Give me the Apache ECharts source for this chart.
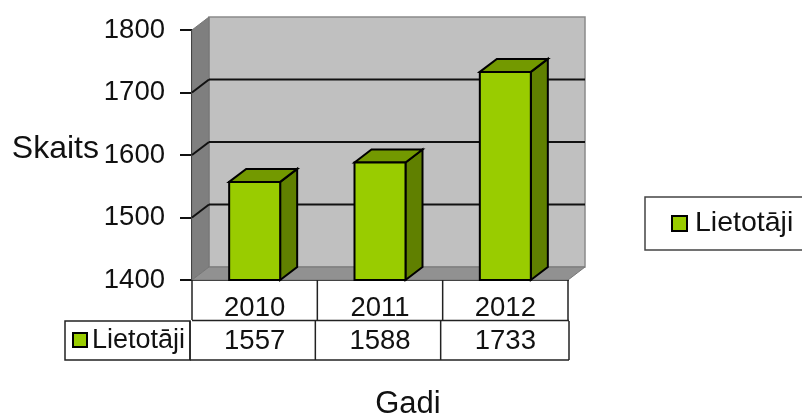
<!DOCTYPE html>
<html>
<head>
<meta charset="utf-8">
<style>html,body{margin:0;padding:0;background:#fff;overflow:hidden}#c{width:802px;height:413px}</style>
<script src="https://cdn.jsdelivr.net/npm/echarts@6/dist/echarts.min.js"></script>
</head>
<body>
<div id="c"></div>
<script>
const categories = ['2010', '2011', '2012'];
const users = [1557, 1588, 1733];
const valueTicks = [1400, 1500, 1600, 1700, 1800];
const seriesName = 'Lietotāji';
const xTitle = 'Gadi';
const yTitle = 'Skaits';

const FONT = '"Liberation Sans", Arial, sans-serif';
const DX = 17, DY = -13, BAR_W = 51;
const ROW1 = 40, ROW2_TOP = 41, ROW2_H = 39, HEAD_LEFT = 65;
const INK = '#111';
const TABLE = '#222';

function line(x1, y1, x2, y2, stroke, w) {
  return {type: 'line', shape: {x1, y1, x2, y2}, style: {stroke, lineWidth: w}};
}
function poly(points, fill, stroke, w) {
  return {type: 'polygon', shape: {points}, style: {fill, stroke, lineWidth: w, lineJoin: 'miter'}};
}
function label(text, x, y, size, align) {
  return {type: 'text', style: {text, x, y, fill: INK, font: size + 'px ' + FONT, align: align || 'center', verticalAlign: 'middle'}};
}

function renderFrame(params, api) {
  const tick = api.value(1);
  const g = params.coordSys;
  const x0 = g.x, x1 = g.x + g.width, yBase = g.y + g.height, yTop = g.y;
  const y = api.coord([0, tick])[1];
  const children = [];
  if (params.dataIndex === 0) {
    children.push(poly([[x0 + DX, yTop + DY], [x1 + DX, yTop + DY], [x1 + DX, yBase + DY], [x0 + DX, yBase + DY]], '#c0c0c0', '#8a8a8a', 1.5));
    children.push(poly([[x0, yTop], [x0 + DX, yTop + DY], [x0 + DX, yBase + DY], [x0, yBase]], '#7f7f7f', '#777', 1));
    children.push(poly([[x0, yBase], [x0 + DX, yBase + DY], [x1 + DX, yBase + DY], [x1, yBase]], '#919191', '#777', 1));
    const bottom = yBase + ROW2_TOP + ROW2_H;
    children.push(line(x1, yBase, x1, yBase + ROW1, TABLE, 1.5));
    children.push(line(x0, yBase + ROW1 + 0.5, x1 + 1, yBase + ROW1 + 0.5, TABLE, 1.5));
    children.push(poly([[HEAD_LEFT, yBase + ROW2_TOP], [x0 - 2, yBase + ROW2_TOP], [x0 - 2, bottom], [HEAD_LEFT, bottom]], 'rgba(0,0,0,0)', TABLE, 1.5));
    children.push(line(x0 - 2, bottom, x1 + 1, bottom, TABLE, 1.5));
    children.push(line(x1 + 1, yBase + ROW2_TOP, x1 + 1, bottom, TABLE, 1.5));
    children.push({type: 'rect', shape: {x: 73, y: yBase + 53, width: 14, height: 14}, style: {fill: '#99cc00', stroke: '#000', lineWidth: 2}});
    children.push(label(seriesName, 92, yBase + 61, 27, 'left'));
  } else if (tick < valueTicks[valueTicks.length - 1]) {
    children.push(line(x0 + DX, y + DY, x1 + DX, y + DY, '#111', 2));
    children.push(line(x0, y, x0 + DX, y + DY, '#111', 2));
  }
  return {type: 'group', children};
}

function renderBar(params, api) {
  const idx = api.value(0);
  const val = api.value(1);
  const g = params.coordSys;
  const yBase = g.y + g.height;
  const c = api.coord([idx, val]);
  const cx = c[0], top = c[1];
  const band = api.size([1, 0])[0];
  const l = cx - BAR_W / 2, r = cx + BAR_W / 2;
  const stroke = '#000';
  const left = cx - band / 2;
  return {
    type: 'group',
    children: [
      poly([[r, yBase], [r + DX, yBase + DY], [r + DX, top + DY], [r, top]], '#608000', stroke, 2),
      poly([[l, top], [l + DX, top + DY], [r + DX, top + DY], [r, top]], '#739900', stroke, 2),
      poly([[l, top], [r, top], [r, yBase], [l, yBase]], '#99cc00', stroke, 2),
      line(left, yBase, left, yBase + ROW1, TABLE, 1.5),
      line(left - 2, yBase + ROW2_TOP, left - 2, yBase + ROW2_TOP + ROW2_H, TABLE, 1.5),
      label(String(users[idx]), cx, yBase + 61, 27.5)
    ]
  };
}

const chart = echarts.init(document.getElementById('c'), null, {renderer: 'canvas'});
chart.setOption({
  animation: false,
  backgroundColor: '#fff',
  grid: {left: 192, width: 376, top: 30, height: 250, containLabel: false, outerBoundsMode: 'none'},
  legend: {
    data: [seriesName],
    left: 645, top: 197,
    orient: 'vertical',
    padding: [12, 30, 12, 26],
    icon: 'rect',
    itemWidth: 15, itemHeight: 15, itemGap: 0,
    borderColor: '#444', borderWidth: 1.5,
    backgroundColor: '#fff',
    selectedMode: false,
    itemStyle: {color: '#99cc00', borderColor: '#000', borderWidth: 2},
    textStyle: {fontFamily: FONT, fontSize: 28.5, color: INK, padding: [2, 0, 0, 3]}
  },
  xAxis: {
    type: 'category',
    data: categories,
    name: xTitle,
    nameLocation: 'middle',
    nameGap: 109,
    nameTextStyle: {fontFamily: FONT, fontSize: 31, color: INK, padding: [0, 0, 0, 56]},
    axisLine: {lineStyle: {color: '#111', width: 2}},
    axisTick: {show: false},
    axisLabel: {fontFamily: FONT, fontSize: 27.5, color: INK, margin: 14}
  },
  yAxis: {
    type: 'value',
    min: 1400, max: 1800, interval: 100,
    name: yTitle,
    nameLocation: 'middle',
    nameRotate: 0,
    nameGap: 93,
    nameTextStyle: {fontFamily: FONT, fontSize: 32, color: INK, verticalAlign: 'bottom', lineHeight: 12},
    axisLine: {show: true, lineStyle: {color: '#111', width: 2}},
    axisTick: {show: true, length: 12, lineStyle: {color: '#111', width: 2}},
    splitLine: {show: false},
    axisLabel: {fontFamily: FONT, fontSize: 27.5, color: INK, margin: 27, padding: [3, 0, 0, 0], formatter: v => String(v)}
  },
  series: [
    {
      name: 'frame', type: 'custom', z: 1, silent: true, clip: false,
      renderItem: renderFrame,
      encode: {x: 0, y: 1},
      data: valueTicks.map(v => [0, v])
    },
    {
      name: seriesName, type: 'custom', z: 2, silent: true, clip: false,
      renderItem: renderBar,
      itemStyle: {color: '#99cc00'},
      encode: {x: 0, y: 1},
      data: users.map((v, i) => [i, v])
    }
  ]
});
</script>
</body>
</html>
